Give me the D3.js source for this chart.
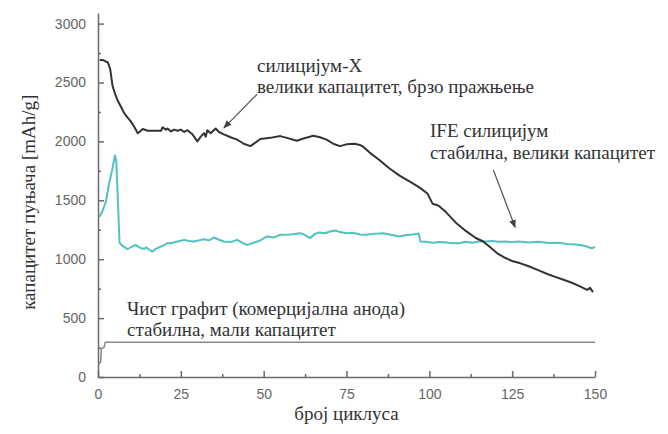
<!DOCTYPE html>
<html>
<head>
<meta charset="utf-8">
<script src="https://cdn.jsdelivr.net/npm/d3@7"></script>
<style>
  body { margin: 0; background: #fff; }
  svg { display: block; }
  .tick text { font-family: "Liberation Sans", Arial, sans-serif; font-size: 14px; fill: #666; }
  .axis path, .axis line { stroke: #6a6a6a; stroke-width: 1.5; }
</style>
</head>
<body>
<svg id="chart" width="668" height="434"></svg>
<script>
// ---- data: [cycle, capacity mAh/g] ----
const siliconX = [
  [0.5,2690],[1.5,2690],[3,2670],[3.7,2610],[4.4,2470],[5.2,2400],[5.9,2350],[7,2290],
  [7.9,2240],[9,2200],[9.9,2170],[11,2120],[12,2070],[12.5,2080],[13.5,2105],[15,2090],
  [17,2090],[19,2090],[19.5,2120],[20.5,2100],[21,2110],[22,2085],[23,2100],[24,2090],
  [25,2100],[26,2080],[27,2095],[28.5,2060],[30,2000],[31,2040],[32,2070],[32.5,2040],
  [33,2095],[34,2070],[35.5,2110],[36.5,2080],[38,2060],[40,2035],[42,2015],[44,1980],
  [46,1960],[47.5,1990],[49,2020],[52,2030],[55,2045],[57,2030],[60,2005],[62,2025],
  [65,2048],[67,2035],[69,2015],[71,1980],[73,1960],[75,1975],[77.5,1980],[79,1970],
  [80,1955],[82,1905],[85,1840],[88,1770],[91,1710],[94,1660],[97,1610],[99.5,1555],
  [101,1470],[102,1462],[103,1450],[105,1400],[108,1310],[111,1240],[114,1180],[116.3,1150],
  [118,1110],[120.5,1050],[123,1010],[125,985],[127.5,965],[130,940],[133,905],[136,870],
  [138,850],[140.5,825],[143,800],[145,775],[147.6,740],[148.5,757],[149.4,720]
];

const ifeSilicon = [
  [0.5,1360],[1.5,1420],[2.4,1490],[3.4,1650],[4.3,1760],[5.1,1880],[5.5,1840],[6,1500],
  [6.5,1140],[7.4,1113],[8.9,1085],[9.4,1093],[10.5,1110],[11.4,1122],[12.5,1100],[13,1093],
  [14,1088],[14.5,1102],[15.5,1080],[16.5,1065],[17.5,1090],[19,1108],[20,1120],[21,1136],
  [22,1136],[24,1150],[26,1164],[27.5,1155],[29,1150],[31,1164],[32,1170],[33.5,1160],
  [35,1184],[36.5,1165],[38,1150],[40,1145],[42,1164],[43.5,1140],[45,1122],[47,1140],
  [49,1160],[51,1193],[53,1185],[55,1207],[58,1210],[61,1221],[62.5,1205],[64,1179],
  [65.5,1215],[66.7,1227],[68.5,1220],[70,1235],[71.7,1244],[73,1230],[75,1221],[77,1225],
  [79,1210],[81,1207],[83,1215],[86,1221],[88,1210],[91,1193],[93,1205],[95,1210],
  [96.8,1218],[97.3,1150],[99,1148],[101,1140],[103,1145],[105,1142],[107,1135],[109,1136],
  [111,1148],[113,1140],[115,1150],[117,1150],[119,1155],[121,1148],[123,1150],[125,1145],
  [127,1150],[130,1142],[133,1148],[136,1138],[139,1140],[141.5,1130],[144,1125],[146,1118],
  [147.5,1108],[149,1093],[150,1105]
];

const graphite = [[0.3,110],[0.8,130],[1,240],[1.8,250],[2.2,295],[150,295]];

const xMajor = [0, 25, 50, 75, 100, 125, 150];
const xMinor = [12.5, 37.5, 62.5, 87.5, 112.5, 137.5];
const yMajor = [0, 500, 1000, 1500, 2000, 2500, 3000];
const yMinor = [250, 750, 1250, 1750, 2250, 2750];

const yTitle = 'капацитет пуњача [mAh/g]';
const xTitle = 'број циклуса';

// annotation text lines and arrows (arrow ends in data units)
const notes = [
  { lines: ['силицијум-X', 'велики капацитет, брзо пражњење'], px: 257, py: 72, dy: 21,
    arrow: [[48, 2400], [38, 2115]] },
  { lines: ['IFE силицијум', 'стабилна, велики капацитет'], px: 430, py: 137, dy: 22,
    arrow: [[119.3, 1760], [125.9, 1270]] },
  { lines: ['Чист графит (комерцијална анода)', 'стабилна, мали капацитет'], px: 127, py: 315, dy: 21,
    arrow: null }
];

const SERIF = '"Liberation Serif", "DejaVu Serif", "Times New Roman", Times, serif';

const svg = d3.select('#chart');

const x = d3.scaleLinear().domain([0, 150]).range([98, 595]);
const y = d3.scaleLinear().domain([0, 3090]).range([377, 13]);

// arrow marker
svg.append('defs').append('marker')
  .attr('id', 'head')
  .attr('viewBox', '0 -5 10 10')
  .attr('refX', 9).attr('refY', 0)
  .attr('markerWidth', 7).attr('markerHeight', 7)
  .attr('orient', 'auto')
  .append('path').attr('d', 'M0,-4L10,0L0,4Z').attr('fill', '#444');

// axes: ticks point inward
const gx = svg.append('g').attr('class', 'axis')
  .attr('transform', `translate(0,${y(0)})`)
  .call(d3.axisBottom(x).tickValues(xMajor).tickFormat(d3.format('d'))
    .tickSize(-6).tickSizeOuter(0).tickPadding(12));
gx.append('g')
  .call(d3.axisBottom(x).tickValues(xMinor).tickSize(-3).tickFormat(''))
  .select('.domain').remove();

const gy = svg.append('g').attr('class', 'axis')
  .attr('transform', `translate(${x(0)},0)`)
  .call(d3.axisLeft(y).tickValues(yMajor).tickFormat(d3.format('d'))
    .tickSize(-6).tickSizeOuter(0).tickPadding(12));
gy.append('g')
  .call(d3.axisLeft(y).tickValues(yMinor).tickSize(-3).tickFormat(''))
  .select('.domain').remove();

// series
const line = d3.line().x(d => x(d[0])).y(d => y(d[1]));

svg.append('path').datum(graphite)
  .attr('fill', 'none').attr('stroke', '#8a8a8a').attr('stroke-width', 1.6)
  .attr('d', line);

svg.append('path').datum(ifeSilicon)
  .attr('fill', 'none').attr('stroke', '#4fc3bf').attr('stroke-width', 2)
  .attr('stroke-linejoin', 'round')
  .attr('d', line);

svg.append('path').datum(siliconX)
  .attr('fill', 'none').attr('stroke', '#333').attr('stroke-width', 2)
  .attr('stroke-linejoin', 'round')
  .attr('d', line);

// annotations
notes.forEach(n => {
  const t = svg.append('text')
    .attr('font-family', SERIF).attr('font-size', 19).attr('fill', '#333');
  n.lines.forEach((s, i) => {
    t.append('tspan').attr('x', n.px).attr('y', n.py + i * n.dy).text(s);
  });
  if (n.arrow) {
    svg.append('line')
      .attr('x1', x(n.arrow[0][0])).attr('y1', y(n.arrow[0][1]))
      .attr('x2', x(n.arrow[1][0])).attr('y2', y(n.arrow[1][1]))
      .attr('stroke', '#555').attr('stroke-width', 1.2)
      .attr('marker-end', 'url(#head)');
  }
});

// axis titles
svg.append('text')
  .attr('font-family', SERIF).attr('font-size', 19).attr('fill', '#333')
  .attr('transform', `translate(35,${y(1500) + 2}) rotate(-90)`)
  .attr('text-anchor', 'middle')
  .text(yTitle);

svg.append('text')
  .attr('font-family', SERIF).attr('font-size', 19).attr('fill', '#333')
  .attr('x', (x(0) + x(150)) / 2).attr('y', 420)
  .attr('text-anchor', 'middle')
  .text(xTitle);
</script>
</body>
</html>
